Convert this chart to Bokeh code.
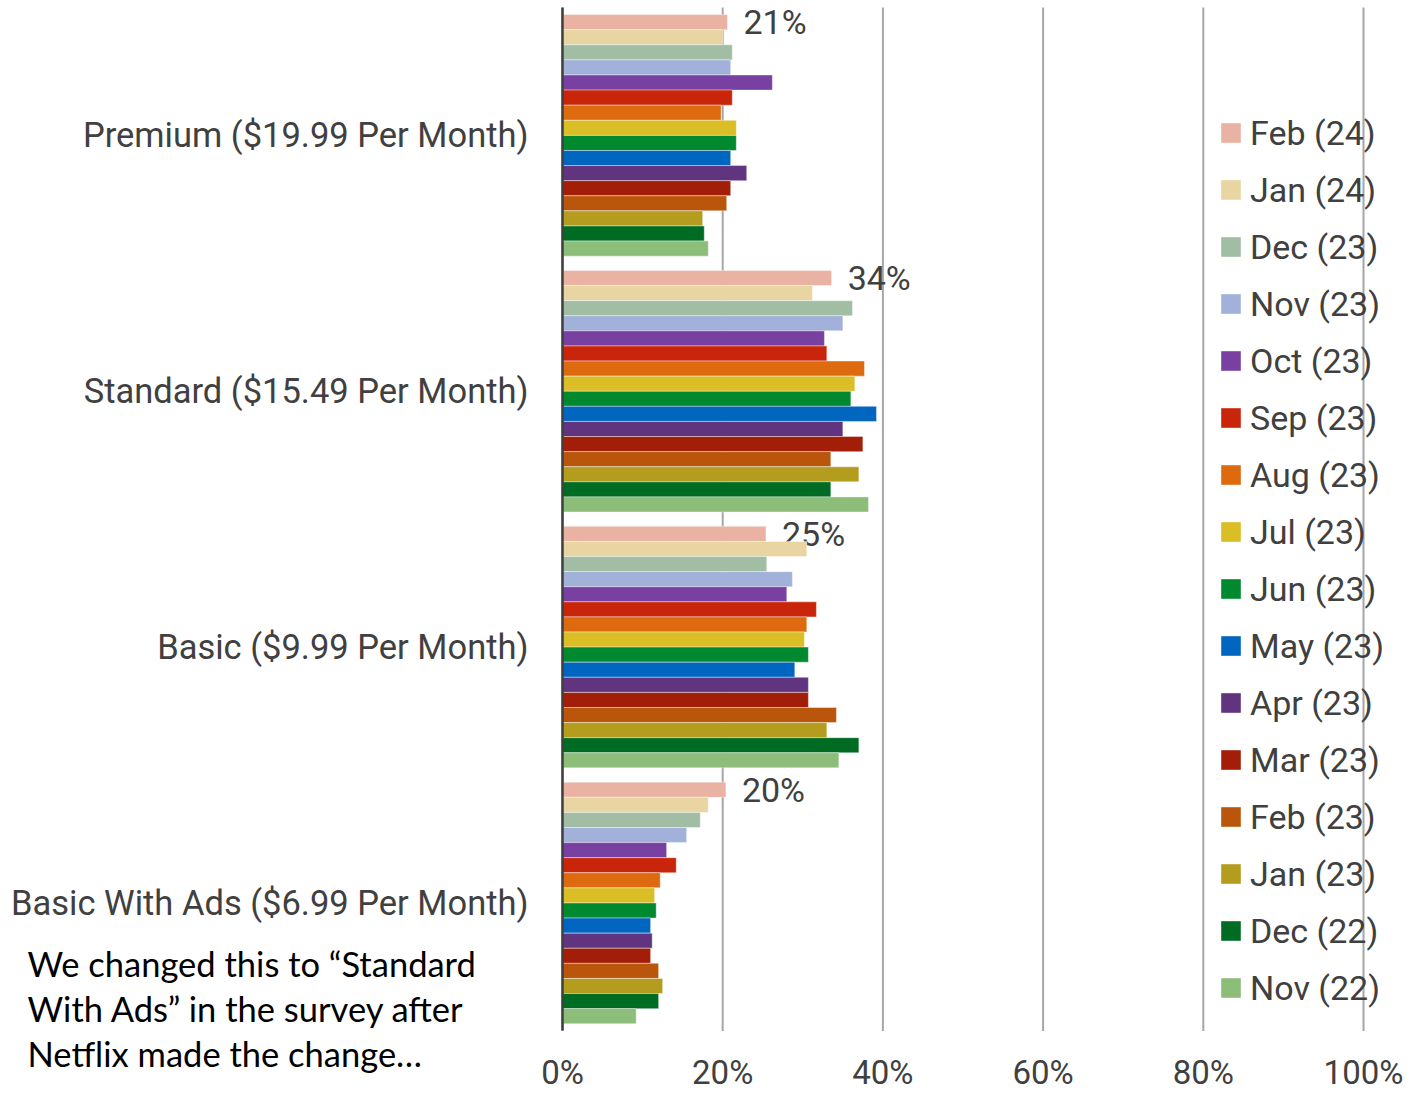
from bokeh.plotting import figure
from bokeh.models import (ColumnDataSource, Range1d, FixedTicker,
                          PrintfTickFormatter, Legend, LegendItem, Label)
from bokeh.transform import dodge
from bokeh.core.properties import value
from bokeh.embed import file_html
from bokeh.resources import INLINE

# ---------------- data ----------------
plans = ["Premium ($19.99 Per Month)", "Standard ($15.49 Per Month)",
         "Basic ($9.99 Per Month)", "Basic With Ads ($6.99 Per Month)"]

months = ["Feb (24)", "Jan (24)", "Dec (23)", "Nov (23)", "Oct (23)", "Sep (23)",
          "Aug (23)", "Jul (23)", "Jun (23)", "May (23)", "Apr (23)", "Mar (23)",
          "Feb (23)", "Jan (23)", "Dec (22)", "Nov (22)"]

premium   = [20.6, 20.0, 21.2, 21.0, 26.2, 21.2, 19.8, 21.7, 21.7, 21.0, 23.0, 21.0, 20.5, 17.5, 17.7, 18.2]
standard  = [33.6, 31.2, 36.2, 35.0, 32.7, 33.0, 37.7, 36.5, 36.0, 39.2, 35.0, 37.5, 33.5, 37.0, 33.5, 38.2]
basic     = [25.4, 30.5, 25.5, 28.7, 28.0, 31.7, 30.5, 30.2, 30.7, 29.0, 30.7, 30.7, 34.2, 33.0, 37.0, 34.5]
basic_ads = [20.4, 18.2, 17.2, 15.5, 13.0, 14.2, 12.2, 11.5, 11.7, 11.0, 11.2, 11.0, 12.0, 12.5, 12.0, 9.2]

colors = ["#E9B2A2", "#E8D5A1", "#A1BEA4", "#A1B1D9", "#7840A0", "#C8250A",
          "#DE6A10", "#DBBD25", "#00892E", "#0066C0", "#613480", "#A31E08",
          "#B9560B", "#B49C1F", "#006C23", "#8CBD79"]

x_ticks = [0, 20, 40, 60, 80, 100]

note_lines = ["We changed this to \u201cStandard",
              "With Ads\u201d in the survey after",
              "Netflix made the change\u2026"]

series_by_plan = [premium, standard, basic, basic_ads]

# ---------------- layout constants (pixels) ----------------
W, H = 1403, 1092
X0_PX, PX_PER_PCT = 562, 8.01          # where 0% sits, pixels per percent
TOP_PX, CAT_PX = 7, 257.5              # plot-area top, pixels per category
TXT = "#404040"
FONT = "Roboto"

n_cat = len(plans)
cat_pos = [n_cat - 1 - k for k in range(n_cat)]   # Premium on top
y_bottom, y_top = -0.5, n_cat - 0.5

x_lo = -X0_PX / PX_PER_PCT
x_hi = (W - X0_PX) / PX_PER_PCT
y_hi = y_top + TOP_PX / CAT_PX
y_lo = y_top - H / CAT_PX

p = figure(width=W, height=H,
           x_range=Range1d(x_lo, x_hi), y_range=Range1d(y_lo, y_hi),
           output_backend="svg", toolbar_location=None,
           min_border_left=0, min_border_right=0,
           min_border_top=0, min_border_bottom=0)
p.outline_line_color = None
p.background_fill_color = "white"
p.border_fill_color = "white"
p.xgrid.visible = False
p.ygrid.visible = False

# vertical gridlines limited to the plot area
grid_src = ColumnDataSource(dict(x=x_ticks, y0=[y_bottom] * len(x_ticks),
                                 y1=[y_top] * len(x_ticks)))
p.segment(x0="x", x1="x", y0="y0", y1="y1", source=grid_src,
          line_color="#A6A6A6", line_width=2)

n = len(months)
bar_h = 0.059
items = []
for i, m in enumerate(months):
    vals = [series_by_plan[k][i] for k in range(n_cat)]
    src = ColumnDataSource(dict(pos=cat_pos, v=vals,
                                lbl=[f"{v:.0f}%" for v in vals]))
    off = ((n - 1) / 2 - i) * bar_h
    r = p.hbar(y=dodge("pos", off), left=0, right="v",
               height=bar_h, source=src, fill_color=colors[i],
               line_color="white", line_alpha=0.5, line_width=0.8)
    items.append(LegendItem(label=m, renderers=[r]))
    if i == 0:
        p.text(x="v", y=dodge("pos", off), text="lbl",
               source=src, x_offset=16, text_baseline="middle",
               text_align="left", text_font=value(FONT),
               text_font_size="34px", text_color=TXT)

# y axis (category labels) drawn at 0 %
p.yaxis.fixed_location = 0
p.yaxis.bounds = (y_bottom, y_top)
p.yaxis.ticker = FixedTicker(ticks=cat_pos)
p.yaxis.major_label_overrides = {pos: name for pos, name in zip(cat_pos, plans)}
p.yaxis.axis_line_color = TXT
p.yaxis.axis_line_width = 2.5
p.yaxis.major_tick_line_color = None
p.yaxis.minor_tick_line_color = None
p.yaxis.major_tick_out = 0
p.yaxis.major_tick_in = 0
p.yaxis.major_label_standoff = 34
p.yaxis.major_label_text_font = FONT
p.yaxis.major_label_text_font_size = "34.5px"
p.yaxis.major_label_text_color = TXT

# x axis (percent labels) drawn at the bottom of the plot area
p.xaxis.fixed_location = y_bottom
p.xaxis.bounds = (0, 100)
p.xaxis.ticker = FixedTicker(ticks=x_ticks)
p.xaxis.formatter = PrintfTickFormatter(format="%d%%")
p.xaxis.axis_line_color = None
p.xaxis.major_tick_line_color = None
p.xaxis.minor_tick_line_color = None
p.xaxis.major_tick_out = 0
p.xaxis.major_tick_in = 0
p.xaxis.major_label_standoff = 22
p.xaxis.major_label_text_font = FONT
p.xaxis.major_label_text_font_size = "33px"
p.xaxis.major_label_text_color = TXT

legend = Legend(items=items, location=(1218, 84), orientation="vertical",
                background_fill_alpha=0, border_line_alpha=0,
                padding=0, margin=0, spacing=16, label_height=41,
                glyph_height=25, glyph_width=25, label_standoff=7,
                label_text_font=FONT, label_text_font_size="34px",
                label_text_color=TXT)
p.add_layout(legend)

for j, line in enumerate(note_lines):
    p.add_layout(Label(x=27, y=H - 963 - 45 * j, x_units="screen", y_units="screen",
                       text=line, text_font="Lato", text_font_size="34.5px",
                       text_color="black", text_baseline="alphabetic",
                       text_align="left"))

open("out.html", "w").write(file_html(p, INLINE))
